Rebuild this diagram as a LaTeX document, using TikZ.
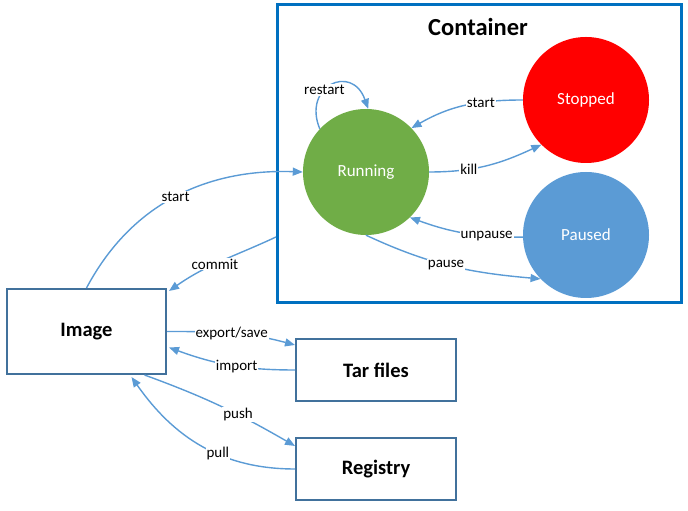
\documentclass[tikz,border=0pt]{standalone}
\usepackage{fontspec}
\setmainfont{Carlito}
\usetikzlibrary{arrows.meta}
\definecolor{arr}{HTML}{5B9BD5}
\definecolor{boxc}{HTML}{41719C}
\definecolor{contc}{HTML}{0070C0}
\definecolor{runc}{HTML}{70AD47}
\definecolor{pauc}{HTML}{5B9BD5}
\tikzset{
  state/.style={circle,minimum size=126pt,inner sep=0pt,text=white,font=\fontsize{17}{20}\selectfont},
  plainbox/.style={draw=boxc,line width=2pt,fill=white,font=\bfseries\fontsize{20.5}{24}\selectfont},
  conn/.style={draw=arr,line width=1.4pt,-{Triangle[length=10pt,width=8pt]}},
  lbl/.style={fill=white,inner sep=1pt,font=\fontsize{15}{17}\selectfont,text=black}
}
\begin{document}
\begin{tikzpicture}[x=1pt,y=1pt]
\useasboundingbox (0,0) rectangle (688,511);
% container
\draw[contc,line width=3pt] (277,506) rectangle (681,208);
\node[font=\bfseries\fontsize{24.5}{28}\selectfont] (ctitle) at (478,484) {Container};
\coordinate (cm) at (276,274);
% states
\node[state,fill=runc] (run) at (366,339) {Running};
\node[state,fill=red] (stop) at (586,411) {Stopped};
\node[state,fill=pauc] (pau) at (586,276) {Paused};
% boxes
\node[plainbox,minimum width=159pt,minimum height=85pt] (img) at (86.5,179.5) {Image};
\node[plainbox,minimum width=160pt,minimum height=62pt] (tar) at (376,141) {Tar files};
\node[plainbox,minimum width=160pt,minimum height=62pt] (reg) at (376,42) {Registry};
% connectors
\path[conn] (img.north) to[out=62,in=178] node[lbl,pos=0.5] {start} (run.west);
\path[conn] (cm) to[out=205,in=35] node[lbl,pos=0.56] {commit} ([xshift=2pt,yshift=-3pt]img.north east);
\path[conn] (run.137) .. controls (302,425) and (352,448) .. node[lbl,pos=0.4] {restart} (run.88);
\path[conn] (stop.west) to[out=180,in=30] node[lbl,pos=0.35] {start} (run.44);
\path[conn] (run.east) to[out=0,in=205] node[lbl,pos=0.33] {kill} (stop.225);
\path[conn] (pau.182) to[out=180,in=-20] node[lbl,pos=0.3] {unpause} (run.-46);
\path[conn] (run.270) to[out=-25,in=175] node[lbl,pos=0.47] {pause} (pau.224);
\path[conn] (img.east) to[out=0,in=165] node[lbl,pos=0.5] {export/save} ([yshift=-7pt]tar.north west);
\path[conn] (tar.west) to[out=180,in=-20] node[lbl,pos=0.45] {import} ([xshift=2pt,yshift=-16pt]img.east);
\path[conn] ([xshift=58pt]img.south) to[out=-20,in=150] node[lbl,pos=0.62] {push} ([yshift=-9pt]reg.north west);
\path[conn] (reg.west) to[out=180,in=-55] node[lbl,pos=0.4] {pull} ([xshift=45pt,yshift=-2pt]img.south);
\end{tikzpicture}
\end{document}
